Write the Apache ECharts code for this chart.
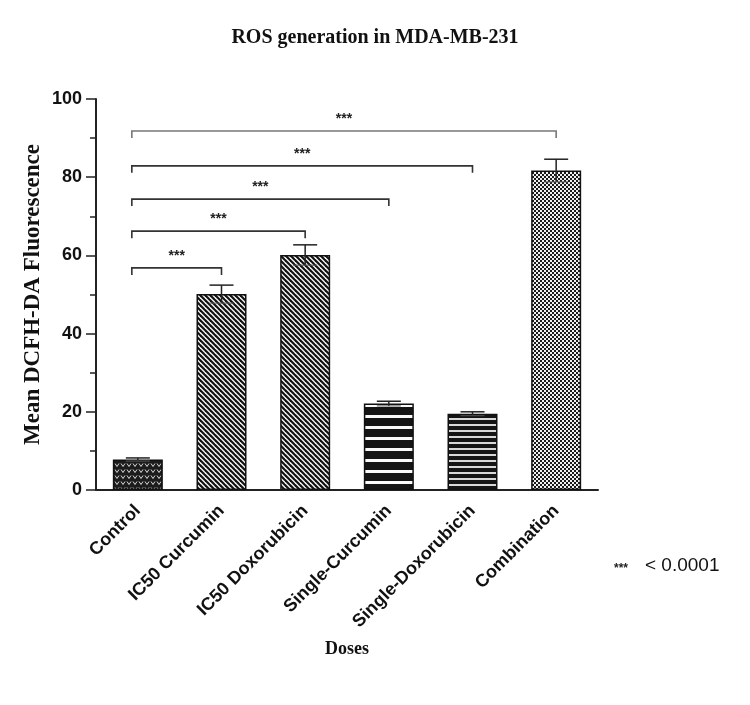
<!DOCTYPE html>
<html>
<head>
<meta charset="utf-8">
<script src="https://cdn.jsdelivr.net/npm/echarts@6/dist/echarts.min.js"></script>
<style>
html,body{margin:0;padding:0;background:#fff;}
#chart{width:750px;height:705px;}
</style>
</head>
<body>
<div id="chart"></div>
<script>
// ---- data ----
var categories = ['Control', 'IC50 Curcumin', 'IC50 Doxorubicin', 'Single-Curcumin', 'Single-Doxorubicin', 'Combination'];
var means = [7.8, 50.1, 60.1, 22.1, 19.5, 81.7];
var errors = [0.4, 2.3, 2.6, 0.6, 0.5, 2.9];
// significance brackets: from Control (index 0) to target index, at height (data units)
var bracketTargets = [1, 2, 3, 4, 5];
var bracketHeights = [56.8, 66.2, 74.4, 82.9, 91.8];
var bracketLabels = ['***', '***', '***', '***', '***'];
var yTicks = [0, 20, 40, 60, 80, 100];

// ---- patterns ----
function mk(w, h, draw) {
  var c = document.createElement('canvas');
  c.width = w; c.height = h;
  var ctx = c.getContext('2d');
  draw(ctx, w, h);
  return { image: c, repeat: 'repeat' };
}
var patControl = mk(6, 6, function (ctx, w, h) {
  ctx.fillStyle = '#1c1c1c'; ctx.fillRect(0, 0, w, h);
  ctx.strokeStyle = '#d8d8d8'; ctx.lineWidth = 1;
  ctx.beginPath(); ctx.moveTo(1, 1.5); ctx.lineTo(3, 4.5); ctx.lineTo(5, 1.5); ctx.stroke();
});
var patDiag = mk(5, 5, function (ctx, w, h) {
  ctx.fillStyle = '#f4f4f4'; ctx.fillRect(0, 0, w, h);
  ctx.strokeStyle = '#111'; ctx.lineWidth = 2.1;
  for (var k = -1; k <= 1; k++) {
    ctx.beginPath(); ctx.moveTo(k * w - 1, -1); ctx.lineTo(k * w + w + 1, h + 1); ctx.stroke();
  }
});
var patWide = mk(4, 11, function (ctx, w, h) {
  ctx.fillStyle = '#fafafa'; ctx.fillRect(0, 0, w, h);
  ctx.fillStyle = '#151515'; ctx.fillRect(0, 0, w, 8);
});
var patThin = mk(4, 6, function (ctx, w, h) {
  ctx.fillStyle = '#d8d8d8'; ctx.fillRect(0, 0, w, h);
  ctx.fillStyle = '#151515'; ctx.fillRect(0, 0, w, 4);
});
var patCheck = mk(4, 4, function (ctx, w, h) {
  ctx.fillStyle = '#f0f0f0'; ctx.fillRect(0, 0, w, h);
  ctx.fillStyle = '#1a1a1a'; ctx.fillRect(0, 0, 2, 2); ctx.fillRect(2, 2, 2, 2);
});
var patterns = [patControl, patDiag, patDiag, patWide, patThin, patCheck];

var chart = echarts.init(document.getElementById('chart'), null, { renderer: 'canvas' });

var barData = means.map(function (v, i) {
  return { value: v, itemStyle: { color: patterns[i] } };
});
var errData = means.map(function (v, i) { return [i, v, errors[i]]; });
var bracketData = bracketTargets.map(function (t, i) { return [t, bracketHeights[i], bracketLabels[i]]; });

var option = {
  backgroundColor: '#fff',
  animation: false,
  title: {
    text: 'ROS generation in MDA-MB-231',
    left: 'center', top: 23,
    textStyle: { fontFamily: 'Liberation Serif, Times New Roman, serif', fontWeight: 'bold', fontSize: 20, color: '#111' }
  },
  grid: { left: 96, right: 152, top: 99, bottom: 215, containLabel: false },
  xAxis: {
    type: 'category',
    data: categories,
    name: 'Doses',
    nameLocation: 'middle',
    nameGap: 150,
    nameMoveOverlap: false,
    nameTextStyle: { fontFamily: 'Liberation Serif, Times New Roman, serif', fontWeight: 'bold', fontSize: 18, color: '#111' },
    axisLine: { lineStyle: { color: '#222', width: 2 } },
    axisTick: { alignWithLabel: true, length: 8, lineStyle: { color: '#222', width: 1.5 } },
    axisLabel: { rotate: 45, margin: 18, fontFamily: 'Liberation Sans, Arial, sans-serif', fontWeight: 'bold', fontSize: 18, color: '#111' }
  },
  yAxis: {
    type: 'value',
    min: 0, max: 100, interval: 20,
    name: 'Mean DCFH-DA Fluorescence',
    nameLocation: 'middle',
    nameGap: 51,
    nameMoveOverlap: false,
    nameTextStyle: { fontFamily: 'Liberation Serif, Times New Roman, serif', fontWeight: 'bold', fontSize: 23, color: '#111' },
    axisLine: { show: true, lineStyle: { color: '#222', width: 2 } },
    axisTick: { show: true, length: 10, lineStyle: { color: '#222', width: 1.5 } },
    minorTick: { show: true, splitNumber: 2, length: 6, lineStyle: { color: '#222', width: 1.5 } },
    splitLine: { show: false },
    axisLabel: {
      margin: 14, fontFamily: 'Liberation Sans, Arial, sans-serif', fontWeight: 'bold', fontSize: 18, color: '#111',
      formatter: function (v) { return yTicks.indexOf(v) >= 0 ? String(v) : ''; }
    }
  },
  series: [
    {
      type: 'bar',
      data: barData,
      barWidth: 50,
      itemStyle: { borderColor: '#111', borderWidth: 1.5 },
      z: 2
    },
    {
      type: 'custom',
      data: errData,
      z: 3,
      renderItem: function (params, api) {
        var i = api.value(0), m = api.value(1), e = api.value(2);
        var top = api.coord([i, m + e]);
        var bot = api.coord([i, m - e]);
        var hw = 12;
        return {
          type: 'group',
          children: [
            { type: 'line', shape: { x1: top[0], y1: top[1], x2: bot[0], y2: bot[1] }, style: { stroke: '#222', lineWidth: 1.5 } },
            { type: 'line', shape: { x1: top[0] - hw, y1: top[1], x2: top[0] + hw, y2: top[1] }, style: { stroke: '#222', lineWidth: 1.5 } },
            { type: 'line', shape: { x1: bot[0] - hw, y1: bot[1], x2: bot[0] + hw, y2: bot[1] }, style: { stroke: '#555', lineWidth: 1 } }
          ]
        };
      }
    },
    {
      type: 'custom',
      data: bracketData,
      z: 4,
      renderItem: function (params, api) {
        var t = api.value(0), h = api.value(1);
        var p0 = api.coord([0, h]);
        var p1 = api.coord([t, h]);
        var x0 = p0[0] - 6, x1 = p1[0];
        var drop = 7;
        var col = params.dataIndex === bracketTargets.length - 1 ? '#777' : '#333';
        return {
          type: 'group',
          children: [
            { type: 'polyline', shape: { points: [[x0, p0[1] + drop], [x0, p0[1]], [x1, p0[1]], [x1, p0[1] + drop]] }, style: { stroke: col, lineWidth: 1.6, fill: null } },
            { type: 'text', style: { text: bracketLabels[params.dataIndex], x: (x0 + x1) / 2, y: p0[1] - 12, textAlign: 'center', textVerticalAlign: 'middle', font: 'bold 14px Liberation Sans, Arial, sans-serif', fill: '#222' } }
          ]
        };
      }
    }
  ],
  graphic: [
    { type: 'text', left: 614, top: 563, style: { text: '***', font: 'bold 12px Liberation Sans, Arial, sans-serif', fill: '#222' } },
    { type: 'text', left: 645, top: 556, style: { text: '< 0.0001', font: '19px Liberation Sans, Arial, sans-serif', fill: '#111' } }
  ]
};
chart.setOption(option);
</script>
</body>
</html>
